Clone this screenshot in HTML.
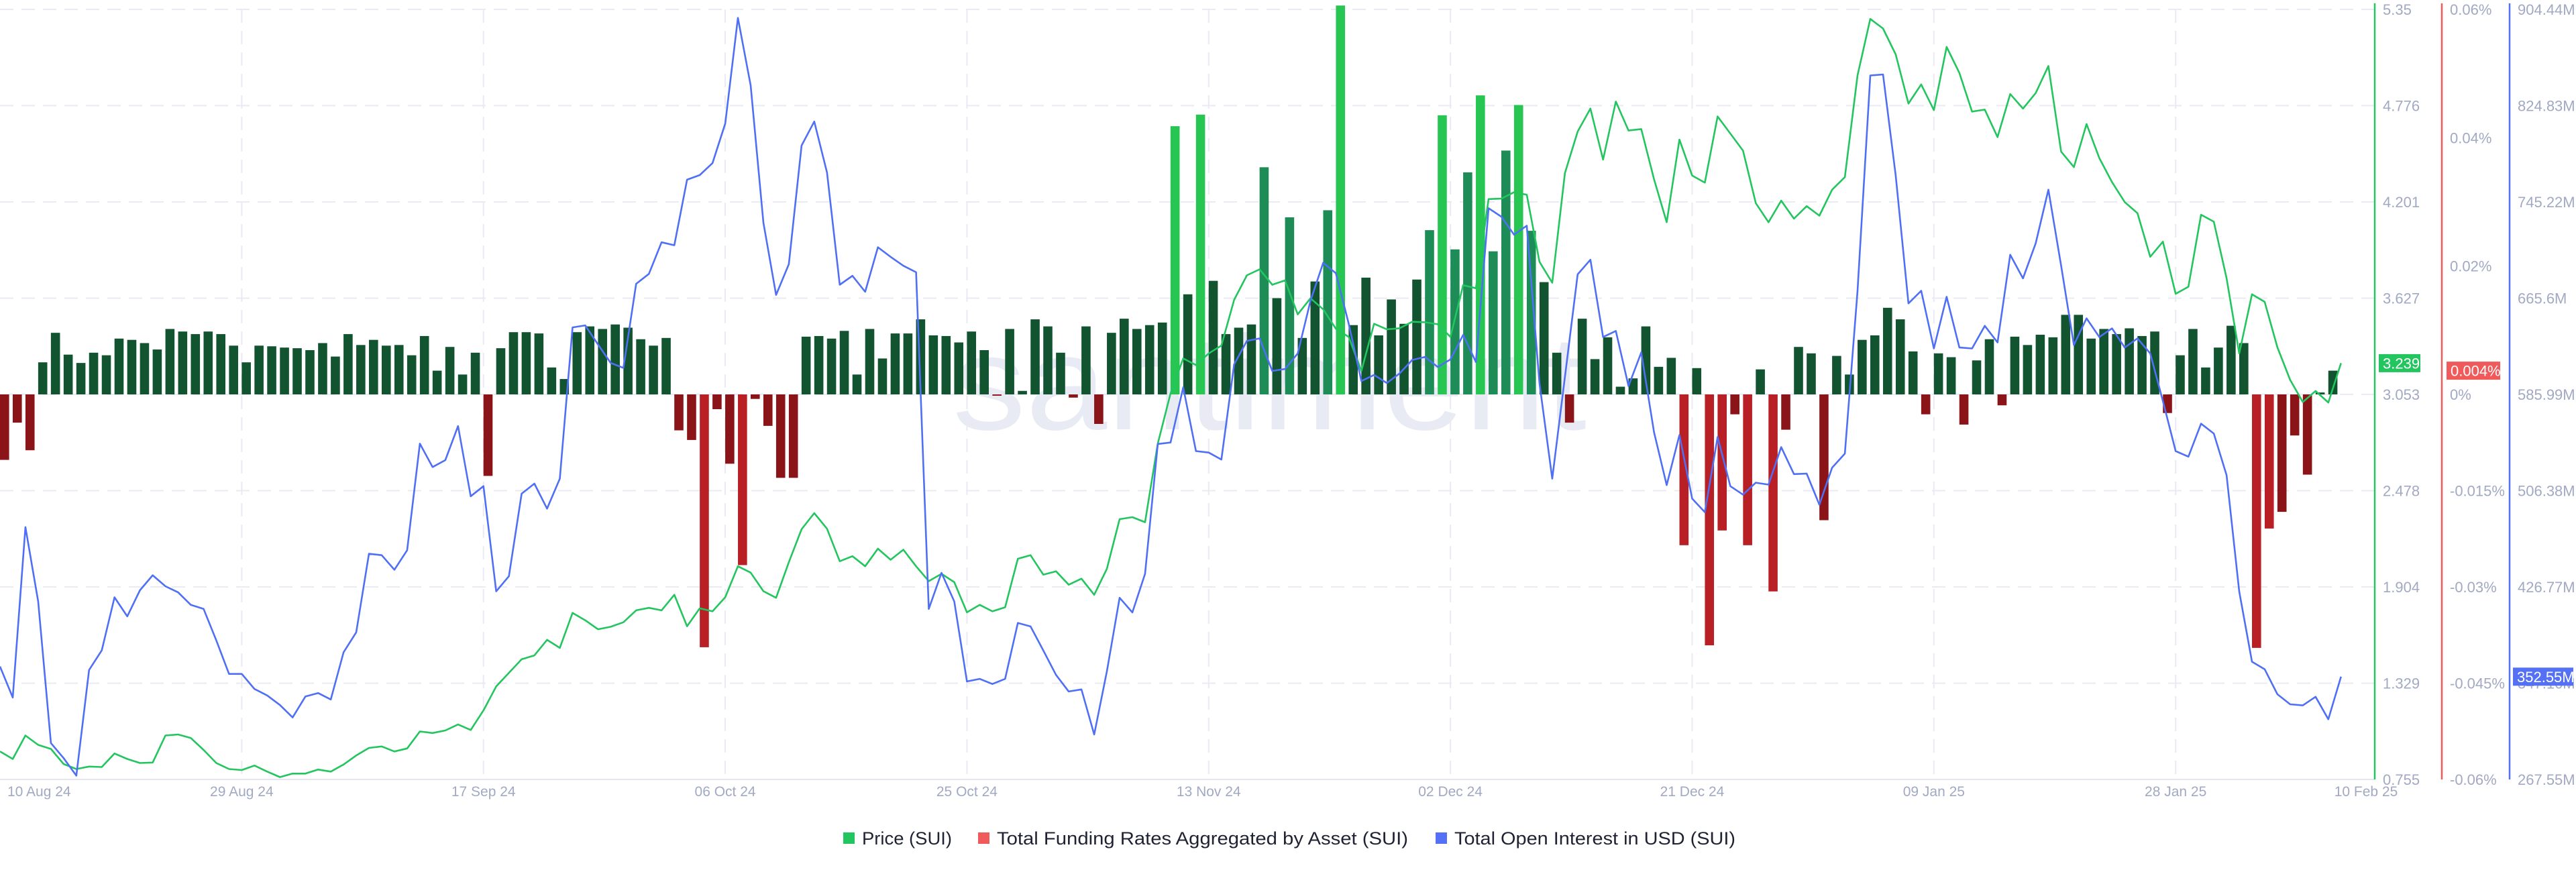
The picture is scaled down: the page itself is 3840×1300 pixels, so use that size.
<!DOCTYPE html>
<html><head><meta charset="utf-8">
<style>
html,body{margin:0;padding:0;background:#fff;}
svg{display:block;}
text{font-family:"Liberation Sans",sans-serif;}
</style></head>
<body>
<svg id="chart" width="3840" height="1300" viewBox="0 0 3840 1300" xmlns="http://www.w3.org/2000/svg">
<rect x="0" y="0" width="3840" height="1300" fill="#ffffff"/>
<text x="1420" y="640" font-size="200" fill="#e9ebf4" textLength="945" lengthAdjust="spacingAndGlyphs">santiment</text>
<g id="grid"></g>
<g id="bars"></g>
<g id="lines"></g>
<g id="axes"></g>
<g id="legend"></g>
</svg>
<script>
const dateLabels = ["10 Aug 24","29 Aug 24","17 Sep 24","06 Oct 24","25 Oct 24","13 Nov 24","02 Dec 24","21 Dec 24","09 Jan 25","28 Jan 25"];
const dateIdx = [0,19,38,57,76,95,114,133,152,171];
const lastDateLabel = "10 Feb 25";
const priceTicks = [5.35,4.776,4.201,3.627,3.053,2.478,1.904,1.329,0.755];
const priceTickLabels = ["5.35","4.776","4.201","3.627","3.053","2.478","1.904","1.329","0.755"];
const fundTicks = [0.06,0.04,0.02,0,-0.015,-0.03,-0.045,-0.06];
const fundTickLabels = ["0.06%","0.04%","0.02%","0%","-0.015%","-0.03%","-0.045%","-0.06%"];
const oiTicks = [904.44,824.83,745.22,665.6,585.99,506.38,426.77,347.16,267.55];
const oiTickLabels = ["904.44M","824.83M","745.22M","665.6M","585.99M","506.38M","426.77M","347.16M","267.55M"];
const price = [0.922,0.877,1.017,0.961,0.937,0.847,0.817,0.832,0.829,0.91,0.877,0.853,0.856,1.017,1.023,1.002,0.931,0.853,0.817,0.811,0.838,0.802,0.769,0.79,0.79,0.814,0.802,0.844,0.898,0.943,0.952,0.922,0.94,1.041,1.032,1.047,1.083,1.05,
1.167,1.31,1.391,1.472,1.495,1.588,1.54,1.749,1.705,1.651,1.666,1.693,1.764,1.779,1.764,1.857,1.669,1.776,1.758,1.842,2.027,1.989,1.878,1.839,2.051,2.248,2.344,2.251,2.057,2.087,2.027,2.132,2.066,2.126,2.027,1.938,1.982,1.932,
1.752,1.797,1.758,1.782,2.072,2.093,1.977,1.997,1.917,1.953,1.857,2.012,2.308,2.32,2.29,2.759,3.058,3.267,3.228,3.297,3.344,3.617,3.763,3.799,3.707,3.733,3.53,3.626,3.56,3.444,3.396,3.193,3.474,3.441,3.447,3.486,3.483,3.471,3.396,3.704,3.686,
4.218,4.221,4.259,4.244,3.844,3.719,4.373,4.621,4.758,4.454,4.8,4.627,4.636,4.337,4.08,4.573,4.358,4.316,4.711,4.609,4.507,4.194,4.08,4.209,4.101,4.176,4.119,4.274,4.349,4.956,5.293,5.236,5.081,4.788,4.902,4.749,
5.126,4.971,4.74,4.752,4.588,4.845,4.758,4.851,5.012,4.501,4.409,4.666,4.463,4.319,4.2,4.134,3.874,3.964,3.653,3.695,4.125,4.083,3.746,3.297,3.65,3.605,3.333,3.139,3.007,3.073,3.004,3.239];
const openInterest = [361.0,335.3,476.2,414.8,297.6,285.2,270.7,358.1,374.3,418.2,402.4,424.0,436.4,427.3,422.3,411.9,408.6,382.6,354.8,354.8,342.4,337.0,329.1,318.8,336.1,339.0,333.7,372.6,389.2,454.2,453.0,441.0,457.1,545.3,525.9,531.6,559.8,501.8,
510.1,423.1,435.6,503.9,512.2,491.5,516.3,641.4,643.1,627.3,612.0,607.9,677.5,685.7,711.8,709.4,763.6,767.4,777.3,810.0,897.4,841.5,728.0,668.3,693.7,791.8,811.7,769.5,676.7,684.1,670.9,707.7,699.8,692.4,687.0,408.6,438.4,414.8,
348.6,350.7,346.5,350.7,397.0,394.1,374.3,354.0,340.3,342.0,304.7,356.9,417.8,405.7,437.6,545.0,546.2,591.8,539.1,537.9,532.1,610.8,630.2,632.3,605.4,607.0,619.9,663.4,694.9,686.2,644.7,597.1,602.1,595.4,603.3,614.5,617.0,608.7,614.9,635.2,612.8,
740.0,733.0,718.1,725.5,595.1,516.3,600.4,685.3,697.4,633.5,638.5,592.9,620.7,554.8,511.0,552.4,499.8,488.6,550.7,510.1,503.1,513.0,511.4,542.4,520.1,520.5,494.8,525.4,537.0,671.7,849.8,850.6,767.0,661.3,671.7,624.0,
666.7,624.8,624.0,642.7,629.0,701.5,682.0,711.0,755.3,692.4,626.9,648.9,633.5,640.6,624.8,632.3,619.9,580.5,539.1,534.5,561.8,553.6,519.2,422.9,364.9,358.7,338.0,329.7,328.8,335.9,317.3,352.55];
const funding = [-0.0102,-0.0044,-0.0087,0.005,0.0096,0.0062,0.0049,0.0065,0.0061,0.0087,0.0085,0.008,0.007,0.0102,0.0098,0.0094,0.0098,0.0094,0.0076,0.005,0.0076,0.0075,0.0073,0.0072,0.0069,0.008,0.0059,0.0094,0.0077,0.0085,0.0076,0.0077,0.0061,0.0091,0.0037,0.0074,0.0031,0.0065,
-0.0127,0.0072,0.0097,0.0097,0.0095,0.0042,0.0024,0.0097,0.0106,0.0102,0.0109,0.0104,0.0086,0.0076,0.0088,-0.0056,-0.0071,-0.0394,-0.0023,-0.0108,-0.0266,-0.0007,-0.0049,-0.013,-0.013,0.009,0.0091,0.0087,0.0099,0.0031,0.0102,0.0056,0.0095,0.0095,0.0117,0.0092,0.0091,0.0081,0.0098,0.0069,
-0.0002,0.0102,0.00055,0.0117,0.0106,0.0065,-0.0005,0.0106,-0.0046,0.0096,0.0118,0.0102,0.0108,0.0112,0.0418,0.0156,0.0436,0.0177,0.0094,0.0104,0.0109,0.0354,0.015,0.0276,0.0088,0.0176,0.0287,0.0606,0.0108,0.0182,0.0092,0.0148,0.011,0.0179,0.0256,0.0435,0.0226,0.0346,0.0466,
0.0223,0.038,0.0451,0.0255,0.0175,0.0065,-0.0044,0.0118,0.0055,0.0089,0.0012,0.0025,0.0106,0.0043,0.0057,-0.0235,0.0041,-0.0391,-0.0212,-0.0031,-0.0235,0.0039,-0.0307,-0.0055,0.0074,0.0064,-0.0196,0.006,0.0031,0.0085,0.0092,0.0135,0.0117,0.0067,-0.0031,
0.0064,0.0058,-0.0047,0.0053,0.0086,-0.0017,0.009,0.0077,0.0093,0.0089,0.0124,0.0124,0.0087,0.0102,0.0094,0.0103,0.0091,0.0098,-0.0029,0.0061,0.0102,0.0042,0.0073,0.0107,0.008,-0.0395,-0.0209,-0.0183,-0.0064,-0.0125,0.0003,0.0037];

const NS = "http://www.w3.org/2000/svg";
const TOP = 14, BOT = 1162, STEP = 18.966;
const xAt = i => i * STEP;
const yPrice = v => TOP + (5.35 - v) / (5.35 - 0.755) * (BOT - TOP);
const yOI = v => TOP + (904.44 - v) / (904.44 - 267.55) * (BOT - TOP);
const yZero = TOP + 4 * (BOT - TOP) / 8;
const yFund = v => yZero - v / 0.06 * (yZero - TOP);

function mk(tag, attrs, parent) {
  const el = document.createElementNS(NS, tag);
  for (const k in attrs) el.setAttribute(k, attrs[k]);
  parent.appendChild(el);
  return el;
}
const grid = document.getElementById('grid');
const bars = document.getElementById('bars');
const lines = document.getElementById('lines');
const axes = document.getElementById('axes');
const legend = document.getElementById('legend');

// horizontal gridlines
priceTicks.forEach((t, k) => {
  if (k === priceTicks.length - 1) return;
  const y = yPrice(t);
  const ln = mk('line', {x1: 0, x2: 3540, y1: y, y2: y, stroke: '#e9eaf3', 'stroke-width': 2, 'stroke-dasharray': '20 12'}, grid);
  
  
});
// vertical gridlines + date labels
dateIdx.forEach((d, k) => {
  const x = xAt(d);
  if (k > 0) {
    const ln = mk('line', {x1: x, x2: x, y1: TOP, y2: BOT, stroke: '#e9eaf3', 'stroke-width': 2, 'stroke-dasharray': '20 12'}, grid);
    
    
  }
  const t = mk('text', {x: k === 0 ? 11 : x, y: 1187, 'font-size': 21, fill: '#a1a9c3', 'text-anchor': k === 0 ? 'start' : 'middle'}, axes);
  t.textContent = dateLabels[k];
  
  
});
{
  const t = mk('text', {x: 3527, y: 1187, 'font-size': 21, fill: '#a1a9c3', 'text-anchor': 'middle'}, axes);
  t.textContent = lastDateLabel;
  
  
}
// x axis line
{
  const ln = mk('line', {x1: 0, x2: 3540, y1: BOT, y2: BOT, stroke: '#e3e6f0', 'stroke-width': 2}, axes);
  
  
}

// funding bars
funding.forEach((v, i) => {
  const y0 = yZero, y1 = yFund(v);
  let c;
  if (v >= 0) c = v >= 0.04 ? '#27c653' : (v >= 0.02 ? '#1e8c56' : '#125430');
  else c = v <= -0.02 ? '#b82025' : '#8b1418';
  const h = Math.max(Math.abs(y1 - y0), 1.5);
  const r = mk('rect', {x: xAt(i), y: Math.min(y0, y1), width: 13.6, height: h, fill: c}, bars);
  
  
});

// lines
function poly(arr, yf, color, name) {
  const pts = arr.map((v, i) => xAt(i).toFixed(1) + ',' + yf(v).toFixed(1)).join(' ');
  const p = mk('polyline', {points: pts, fill: 'none', stroke: color, 'stroke-width': 2.6, 'stroke-linejoin': 'round'}, lines);
  
  
}
poly(price, yPrice, '#22c55e', 'price-line');
poly(openInterest, yOI, '#4f6ff5', 'open-interest-line');

// right axes
function axis(x, color, ticks, labels, yf, name) {
  const ln = mk('line', {x1: x, x2: x, y1: 5, y2: BOT, stroke: color, 'stroke-width': 2.5}, axes);
  
  
  ticks.forEach((t, k) => {
    const tx = mk('text', {x: x + 12, y: yf(t) + 8, 'font-size': 22, fill: '#a1a9c3'}, axes);
    tx.textContent = labels[k];
    
    
  });
}
axis(3540, '#22c55e', priceTicks, priceTickLabels, yPrice, 'price');
axis(3640, '#f05a5a', fundTicks, fundTickLabels, yFund, 'funding');
axis(3741, '#5470f5', oiTicks, oiTickLabels, yOI, 'open-interest');

function badge(x, y, w, color, label, name) {
  const g = mk('g', {}, axes);
  
  
  mk('rect', {x: x, y: y - 13.5, width: w, height: 27, fill: color}, g);
  const t = mk('text', {x: x + 6, y: y + 8, 'font-size': 22, fill: '#ffffff'}, g);
  t.textContent = label;
}
badge(3546, yPrice(price[price.length - 1]), 62, '#22c55e', '3.239', 'price-last-badge');
badge(3647, yFund(funding[funding.length - 1]), 80, '#f05a5a', '0.004%', 'funding-last-badge');
badge(3746, yOI(openInterest[openInterest.length - 1]), 90, '#5470f5', '352.55M', 'oi-last-badge');

// legend
const legendItems = [
  {x: 1257, c: '#22c55e', t: 'Price (SUI)', w: 134, n: 'legend-price'},
  {x: 1458, c: '#f05a5a', t: 'Total Funding Rates Aggregated by Asset (SUI)', w: 613, n: 'legend-funding'},
  {x: 2140, c: '#5470f5', t: 'Total Open Interest in USD (SUI)', w: 419, n: 'legend-open-interest'}
];
legendItems.forEach(it => {
  const g = mk('g', {}, legend);
  
  
  mk('rect', {x: it.x, y: 1241, width: 17, height: 17, fill: it.c}, g);
  const t = mk('text', {x: it.x + 28, y: 1259, 'font-size': 27, fill: '#1f2233', textLength: it.w, lengthAdjust: 'spacingAndGlyphs'}, g);
  t.textContent = it.t;
});
</script>
</body></html>
